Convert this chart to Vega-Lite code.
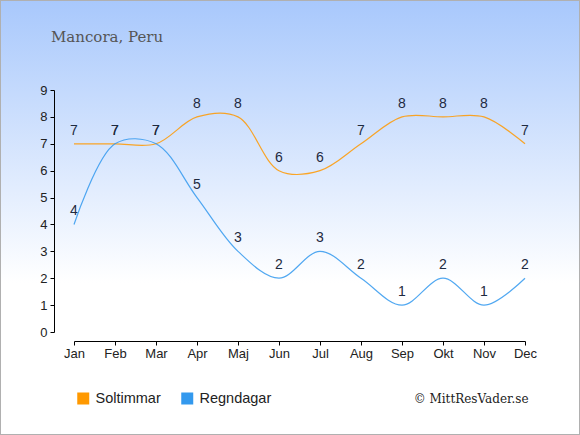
{
  "$schema": "https://vega.github.io/schema/vega-lite/v6.json",
  "width": 580,
  "height": 435,
  "autosize": "none",
  "padding": 0,
  "background": "#ffffff",
  "title": {
    "text": "Mancora, Peru",
    "anchor": "start",
    "frame": "group",
    "orient": "top",
    "dx": 51,
    "offset": -57,
    "baseline": "alphabetic",
    "font": "DejaVu Serif",
    "fontSize": 15,
    "fontWeight": "normal",
    "color": "#555555"
  },
  "data": {
    "values": [
      {"month": "Jan", "serie": "Soltimmar", "value": 7},
      {"month": "Feb", "serie": "Soltimmar", "value": 7},
      {"month": "Mar", "serie": "Soltimmar", "value": 7},
      {"month": "Apr", "serie": "Soltimmar", "value": 8},
      {"month": "Maj", "serie": "Soltimmar", "value": 8},
      {"month": "Jun", "serie": "Soltimmar", "value": 6},
      {"month": "Jul", "serie": "Soltimmar", "value": 6},
      {"month": "Aug", "serie": "Soltimmar", "value": 7},
      {"month": "Sep", "serie": "Soltimmar", "value": 8},
      {"month": "Okt", "serie": "Soltimmar", "value": 8},
      {"month": "Nov", "serie": "Soltimmar", "value": 8},
      {"month": "Dec", "serie": "Soltimmar", "value": 7},
      {"month": "Jan", "serie": "Regndagar", "value": 4},
      {"month": "Feb", "serie": "Regndagar", "value": 7},
      {"month": "Mar", "serie": "Regndagar", "value": 7},
      {"month": "Apr", "serie": "Regndagar", "value": 5},
      {"month": "Maj", "serie": "Regndagar", "value": 3},
      {"month": "Jun", "serie": "Regndagar", "value": 2},
      {"month": "Jul", "serie": "Regndagar", "value": 3},
      {"month": "Aug", "serie": "Regndagar", "value": 2},
      {"month": "Sep", "serie": "Regndagar", "value": 1},
      {"month": "Okt", "serie": "Regndagar", "value": 2},
      {"month": "Nov", "serie": "Regndagar", "value": 1},
      {"month": "Dec", "serie": "Regndagar", "value": 2}
    ]
  },
  "encoding": {
    "x": {
      "field": "month",
      "type": "ordinal",
      "sort": ["Jan", "Feb", "Mar", "Apr", "Maj", "Jun", "Jul", "Aug", "Sep", "Okt", "Nov", "Dec"],
      "scale": {"type": "point", "range": [74, 525], "padding": 0},
      "axis": {
        "orient": "bottom",
        "offset": -94,
        "labelAngle": 0,
        "tickSize": 4,
        "labelPadding": 2,
        "title": "© MittResVader.se",
        "titleX": 528,
        "titleY": 61,
        "titleAlign": "right",
        "titleAnchor": null,
        "titleBaseline": "alphabetic",
        "titleFont": "DejaVu Serif",
        "titleFontSize": 12,
        "titleFontWeight": "normal",
        "titleColor": "#222222"
      }
    },
    "y": {
      "field": "value",
      "type": "quantitative",
      "scale": {"domain": [0, 9], "range": [332, 90], "nice": false},
      "axis": {
        "orient": "left",
        "offset": -54,
        "values": [0, 1, 2, 3, 4, 5, 6, 7, 8, 9],
        "tickSize": 4,
        "labelPadding": 3,
        "grid": false,
        "title": null
      }
    },
    "color": {
      "field": "serie",
      "type": "nominal",
      "scale": {"domain": ["Soltimmar", "Regndagar"], "range": ["#ff9900", "#3399ee"]},
      "legend": {
        "title": null,
        "orient": "none",
        "legendX": 76,
        "legendY": 391,
        "direction": "horizontal",
        "symbolType": "square",
        "symbolSize": 110,
        "symbolOpacity": 1,
        "labelFont": "Liberation Sans",
        "labelFontSize": 14.5,
        "labelColor": "#222222",
        "labelOffset": 5,
        "columnPadding": 18,
        "encode": {
          "symbols": {
            "update": {
              "fill": {"scale": "color", "field": "value"},
              "stroke": {"value": "transparent"},
              "opacity": {"value": 1}
            }
          }
        }
      }
    }
  },
  "layer": [
    {
      "mark": {"type": "line", "interpolate": "catmull-rom", "strokeWidth": 1.2, "opacity": 0.85}
    },
    {
      "mark": {"type": "text", "baseline": "bottom", "dy": -6, "fontSize": 14, "font": "Liberation Sans", "color": "#1e2a40"},
      "encoding": {
        "text": {"field": "value", "type": "quantitative"},
        "color": {"value": "#1e2a40"}
      }
    }
  ],
  "config": {
    "view": {
      "fill": {
        "gradient": "linear",
        "x1": 0, "y1": 0, "x2": 0, "y2": 1,
        "stops": [
          {"offset": 0, "color": "#a8c8fc"},
          {"offset": 0.65, "color": "#ffffff"}
        ]
      },
      "stroke": "#b0b0b0",
      "strokeWidth": 2
    },
    "axis": {
      "domainColor": "#000000",
      "tickColor": "#000000",
      "labelColor": "#222222",
      "labelFont": "Liberation Sans",
      "labelFontSize": 13,
      "grid": false
    }
  }
}
